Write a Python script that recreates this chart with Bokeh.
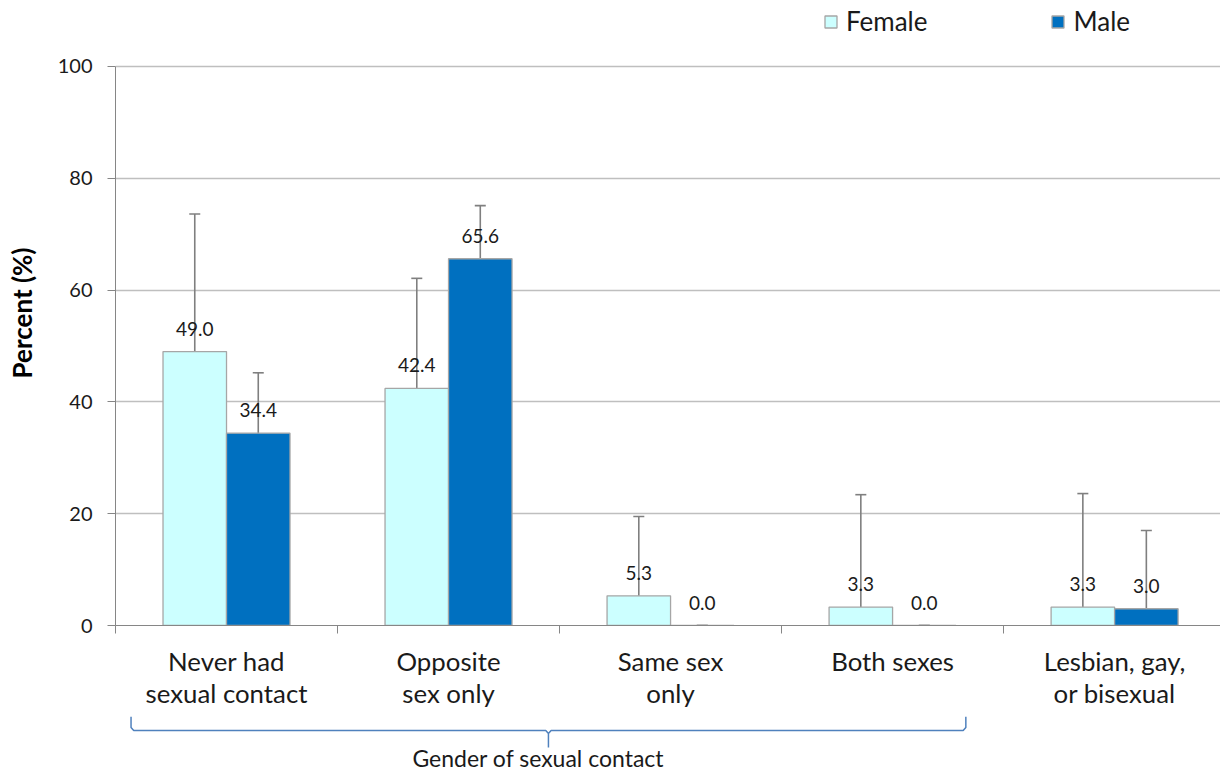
from bokeh.plotting import figure
from bokeh.models import (ColumnDataSource, Range1d, FixedTicker, Whisker, TeeHead)
from bokeh.layouts import column
from bokeh.core.properties import value
from bokeh.embed import file_html
from bokeh.resources import INLINE

categories = ["Never had\nsexual contact", "Opposite\nsex only", "Same sex\nonly", "Both sexes", "Lesbian, gay,\nor bisexual"]
female = [49.0, 42.4, 5.3, 3.3, 3.3]
male = [34.4, 65.6, 0.0, 0.0, 3.0]
female_lower = [24.9, 24.9, 1.3, 0.4, 0.4]
female_upper = [73.6, 62.1, 19.5, 23.4, 23.6]
male_lower = [24.9, 54.8, 0.0, 0.0, 0.5]
male_upper = [45.2, 75.1, 0.0, 0.0, 17.0]
y_ticks = [0, 20, 40, 60, 80, 100]
group_label = "Gender of sexual contact"

FONT = "Lato"
n = len(categories)
centers = [i + 0.5 for i in range(n)]
dodge = 0.143
bw = 0.286

fsrc = ColumnDataSource(dict(x=[c - dodge for c in centers], top=female,
                             lower=female_lower, upper=female_upper,
                             lab=["%.1f" % v for v in female]))
msrc = ColumnDataSource(dict(x=[c + dodge for c in centers], top=male,
                             lower=male_lower, upper=male_upper,
                             lab=["%.1f" % v for v in male]))

p = figure(width=1220, height=716, output_backend="svg", toolbar_location=None,
           x_range=Range1d(0, 4.977), y_range=Range1d(0, 111.8),
           min_border_left=115, min_border_right=0, min_border_top=0, min_border_bottom=91)
p.outline_line_color = None
p.background_fill_color = "white"
p.border_fill_color = "white"

p.vbar(x="x", top="top", width=bw, source=fsrc, fill_color="#CCFFFF",
       line_color="#A6A6A6", line_width=1.3, legend_label="Female")
p.vbar(x="x", top="top", width=bw, source=msrc, fill_color="#0070C0",
       line_color="#A6A6A6", line_width=1.3, legend_label="Male")

for src in (fsrc, msrc):
    w = Whisker(source=src, base="x", lower="lower", upper="upper",
                line_color="#7F7F7F", line_width=1.6,
                upper_head=TeeHead(size=11, line_color="#7F7F7F", line_width=1.6),
                lower_head=TeeHead(size=11, line_color="#7F7F7F", line_width=1.6))
    p.add_layout(w)
    p.text(x="x", y="top", text="lab", source=src, text_align="center",
           text_baseline="middle", y_offset=-23, text_font=value(FONT),
           text_font_size="19px", text_color="#1a1a1a")

# y axis
p.yaxis.ticker = FixedTicker(ticks=y_ticks)
p.yaxis.bounds = (0, 100)
p.yaxis.axis_line_color = "#868686"
p.yaxis.major_tick_line_color = "#868686"
p.yaxis.major_tick_out = 8
p.yaxis.major_tick_in = 0
p.yaxis.minor_tick_line_color = None
p.yaxis.major_label_text_font = FONT
p.yaxis.major_label_text_font_size = "20px"
p.yaxis.major_label_text_color = "#1a1a1a"
p.yaxis.major_label_standoff = 15
p.yaxis.axis_label = "Percent (%)"
p.yaxis.axis_label_text_font = FONT
p.yaxis.axis_label_text_font_size = "26px"
p.yaxis.axis_label_text_font_style = "bold"
p.yaxis.axis_label_text_color = "#000000"
p.yaxis.axis_label_standoff = 17

# x axis
p.xaxis.ticker = FixedTicker(ticks=centers, minor_ticks=list(range(n + 1)))
p.xaxis.major_label_overrides = {c: lab for c, lab in zip(centers, categories)}
p.xaxis.axis_line_color = "#868686"
p.xaxis.major_tick_line_color = None
p.xaxis.major_tick_out = 8
p.xaxis.minor_tick_line_color = "#868686"
p.xaxis.minor_tick_out = 8
p.xaxis.minor_tick_in = 0
p.xaxis.major_label_text_font = FONT
p.xaxis.major_label_text_font_size = "25.8px"
p.xaxis.major_label_text_color = "#1a1a1a"
p.xaxis.major_label_text_line_height = 1.07
p.xaxis.major_label_standoff = 12

p.xgrid.grid_line_color = None
p.ygrid.ticker = FixedTicker(ticks=y_ticks)
p.ygrid.grid_line_color = "#BFBFBF"
p.ygrid.grid_line_width = 1.3

lg = p.legend[0]
lg.orientation = "horizontal"
lg.location = (708, 588)
lg.padding = 2
lg.margin = 0
lg.spacing = 123
lg.border_line_color = None
lg.background_fill_alpha = 0
lg.glyph_width = 15
lg.glyph_height = 15
lg.label_standoff = 8
lg.label_text_font = FONT
lg.label_text_font_size = "26px"
lg.label_text_color = "#1a1a1a"

# bottom strip with the brace and its label
p2 = figure(width=1220, height=54, output_backend="svg", toolbar_location=None,
            x_range=p.x_range, y_range=Range1d(0, 54),
            min_border_left=115, min_border_right=0, min_border_top=0, min_border_bottom=0)
p2.axis.visible = False
p2.grid.visible = False
p2.outline_line_color = None
p2.border_fill_color = "white"

L = 0 + 0.07
R = 4 - 0.17
M = (L + R) / 2
d = 0.012
bx = [L, L, L + d, M - d, M, M, M, M + d, R - d, R, R]
by = [54, 43, 40, 40, 37, 23, 37, 40, 40, 43, 54]
p2.line(bx, by, line_color="#4F81BD", line_width=1.5)
p2.text(x=[M], y=[13], text=[group_label], text_align="center",
        text_baseline="middle", x_offset=-10, text_font=value(FONT),
        text_font_size="23px", text_color="#1a1a1a")

layout = column(p, p2, spacing=0)
open("out.html", "w").write(file_html(layout, INLINE))
